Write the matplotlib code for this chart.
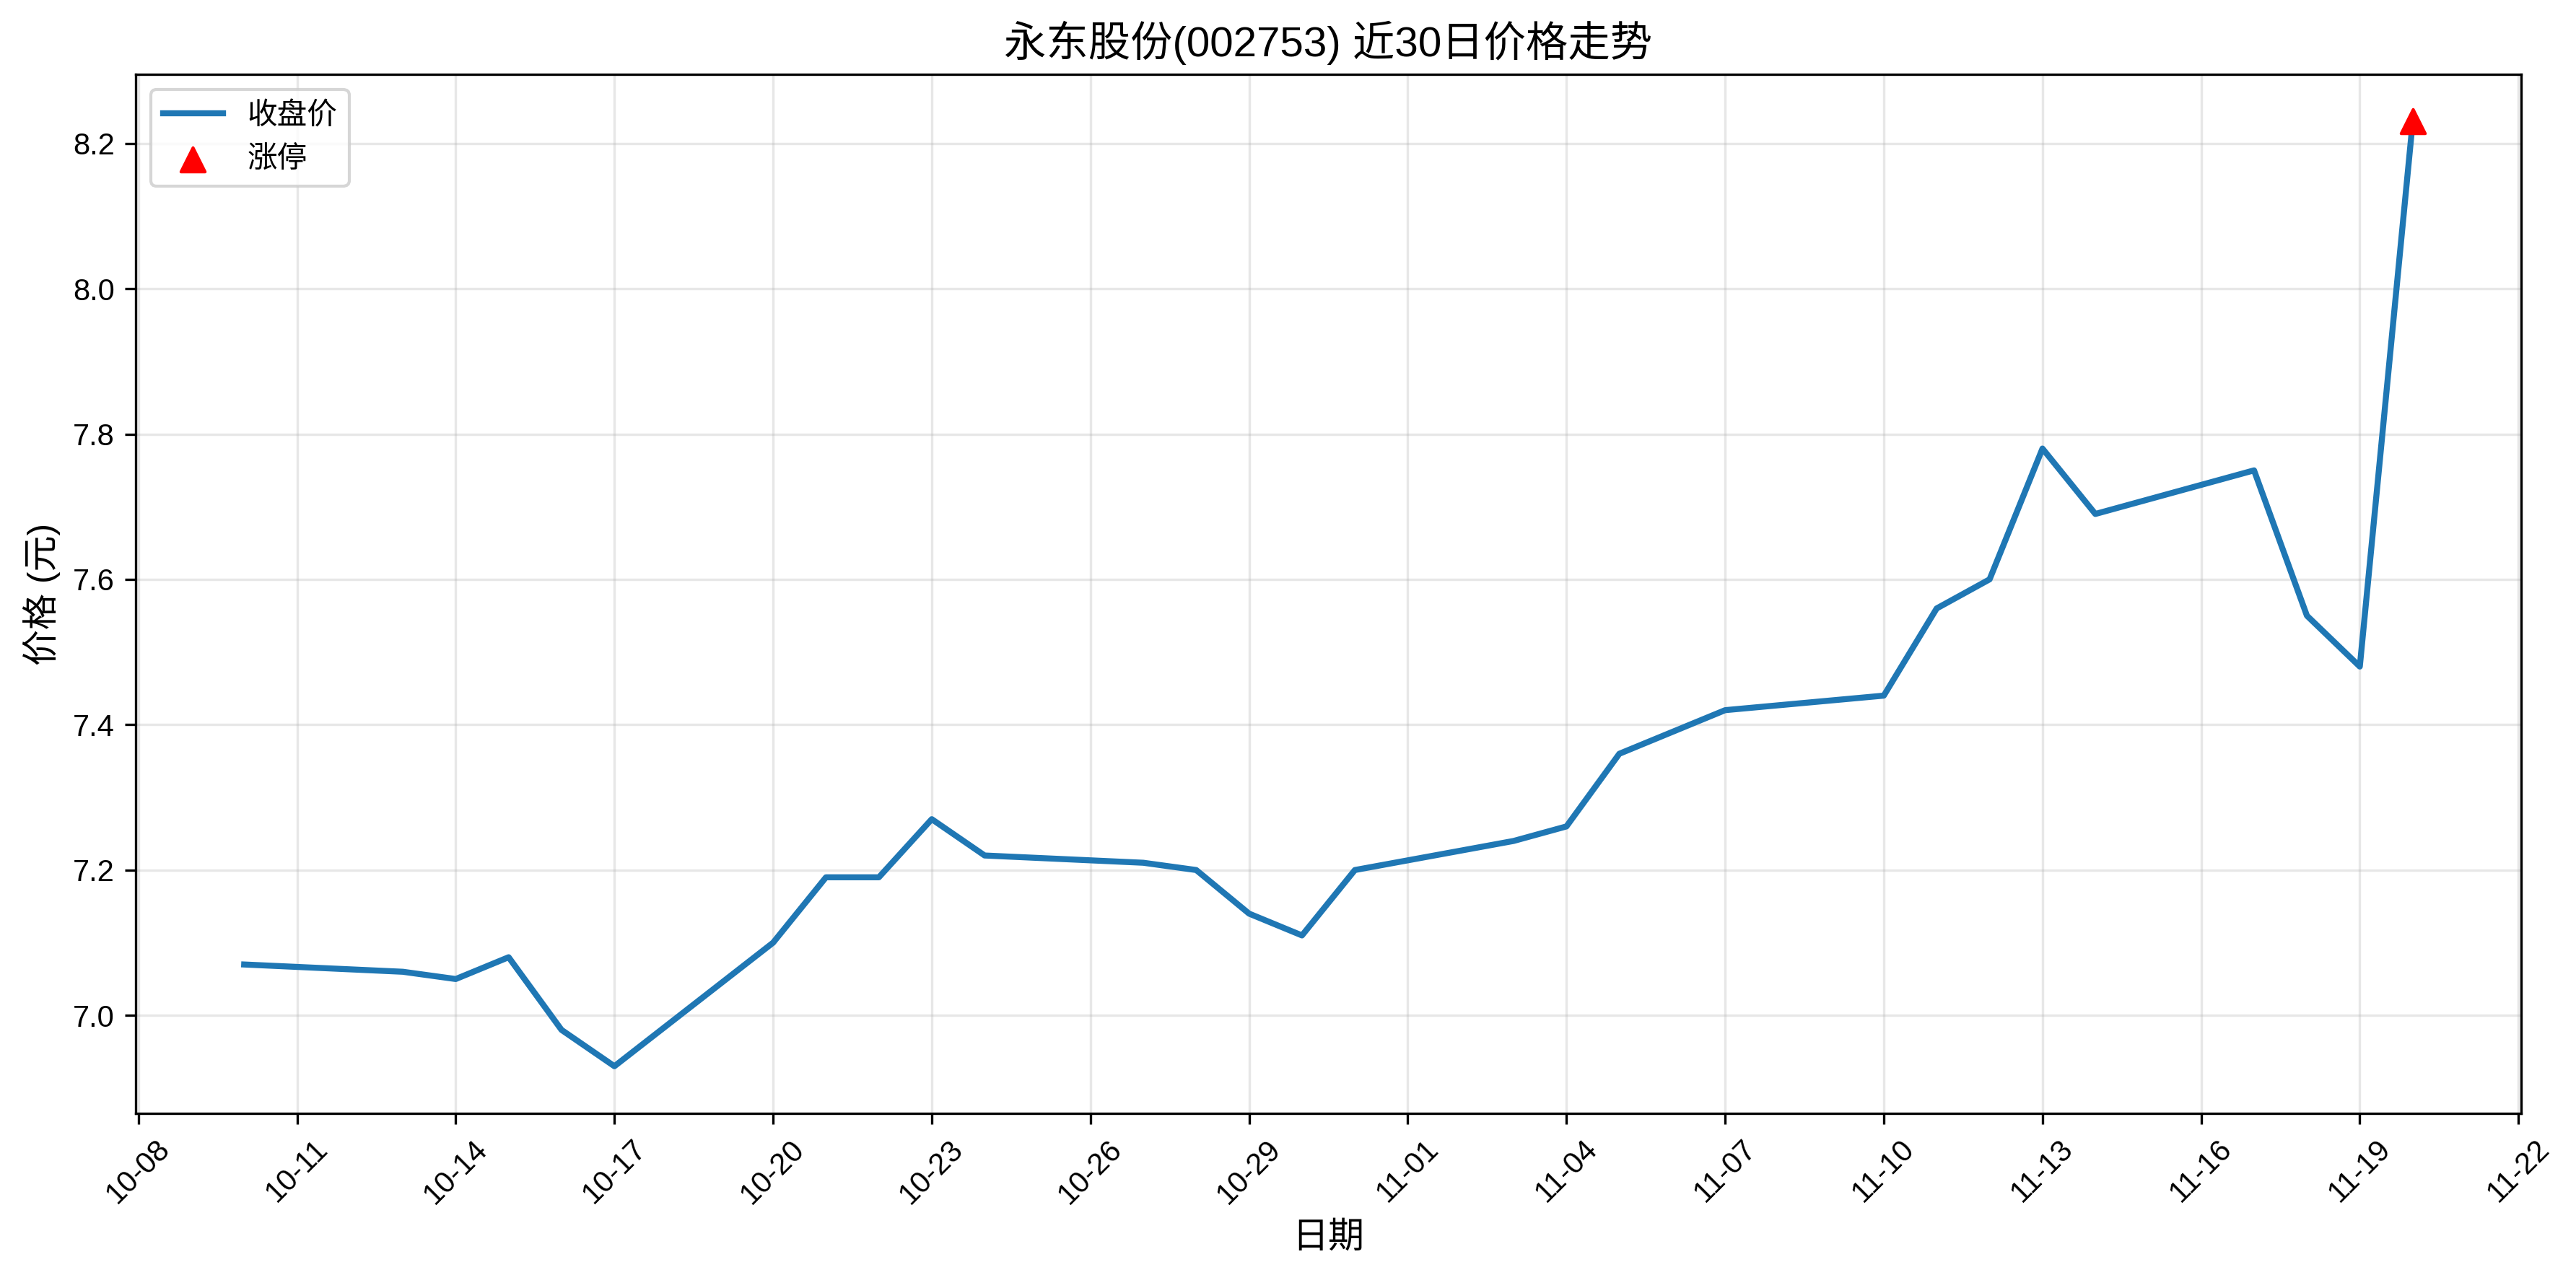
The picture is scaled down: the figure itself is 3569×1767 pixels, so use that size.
import matplotlib
matplotlib.use("Agg")
import matplotlib.pyplot as plt
import matplotlib.dates as mdates
import pandas as pd

plt.rcParams['font.family'] = ['Liberation Sans', 'Noto Sans CJK SC', 'DejaVu Sans']
plt.rcParams['axes.unicode_minus'] = False

# 收盘价数据
dates = ['2025-10-10', '2025-10-13', '2025-10-14', '2025-10-15', '2025-10-16',
         '2025-10-17', '2025-10-20', '2025-10-21', '2025-10-22', '2025-10-23',
         '2025-10-24', '2025-10-27', '2025-10-28', '2025-10-29', '2025-10-30',
         '2025-10-31', '2025-11-03', '2025-11-04', '2025-11-05', '2025-11-07',
         '2025-11-10', '2025-11-11', '2025-11-12', '2025-11-13', '2025-11-14',
         '2025-11-17', '2025-11-18', '2025-11-19', '2025-11-20']
close = [7.07, 7.06, 7.05, 7.08, 6.98,
         6.93, 7.10, 7.19, 7.19, 7.27,
         7.22, 7.21, 7.20, 7.14, 7.11,
         7.20, 7.24, 7.26, 7.36, 7.42,
         7.44, 7.56, 7.60, 7.78, 7.69,
         7.75, 7.55, 7.48, 8.23]
limit_up_dates = ['2025-11-20']
limit_up_prices = [8.23]

dates = pd.to_datetime(dates)
limit_up_dates = pd.to_datetime(limit_up_dates)

fig, ax = plt.subplots(figsize=(3569 / 300, 1767 / 300), dpi=300)
fig.subplots_adjust(left=0.0527, right=0.9787, top=0.9417, bottom=0.1267)

ax.plot(dates, close, color='#1f77b4', linewidth=2, label='收盘价')
ax.scatter(limit_up_dates, limit_up_prices, color='red', marker='^', s=64,
           zorder=5, label='涨停')

ax.set_title('永东股份(002753) 近30日价格走势', fontsize=14)
ax.set_xlabel('日期', fontsize=12)
ax.set_ylabel('价格 (元)', fontsize=12)
ax.grid(True, alpha=0.3)
ax.legend(loc='upper left', fontsize=10)

ax.xaxis.set_major_locator(mdates.DayLocator(interval=3))
ax.xaxis.set_major_formatter(mdates.DateFormatter('%m-%d'))
plt.setp(ax.get_xticklabels(), rotation=45)
ax.tick_params(labelsize=10)

fig.savefig('out.png', dpi=300)
